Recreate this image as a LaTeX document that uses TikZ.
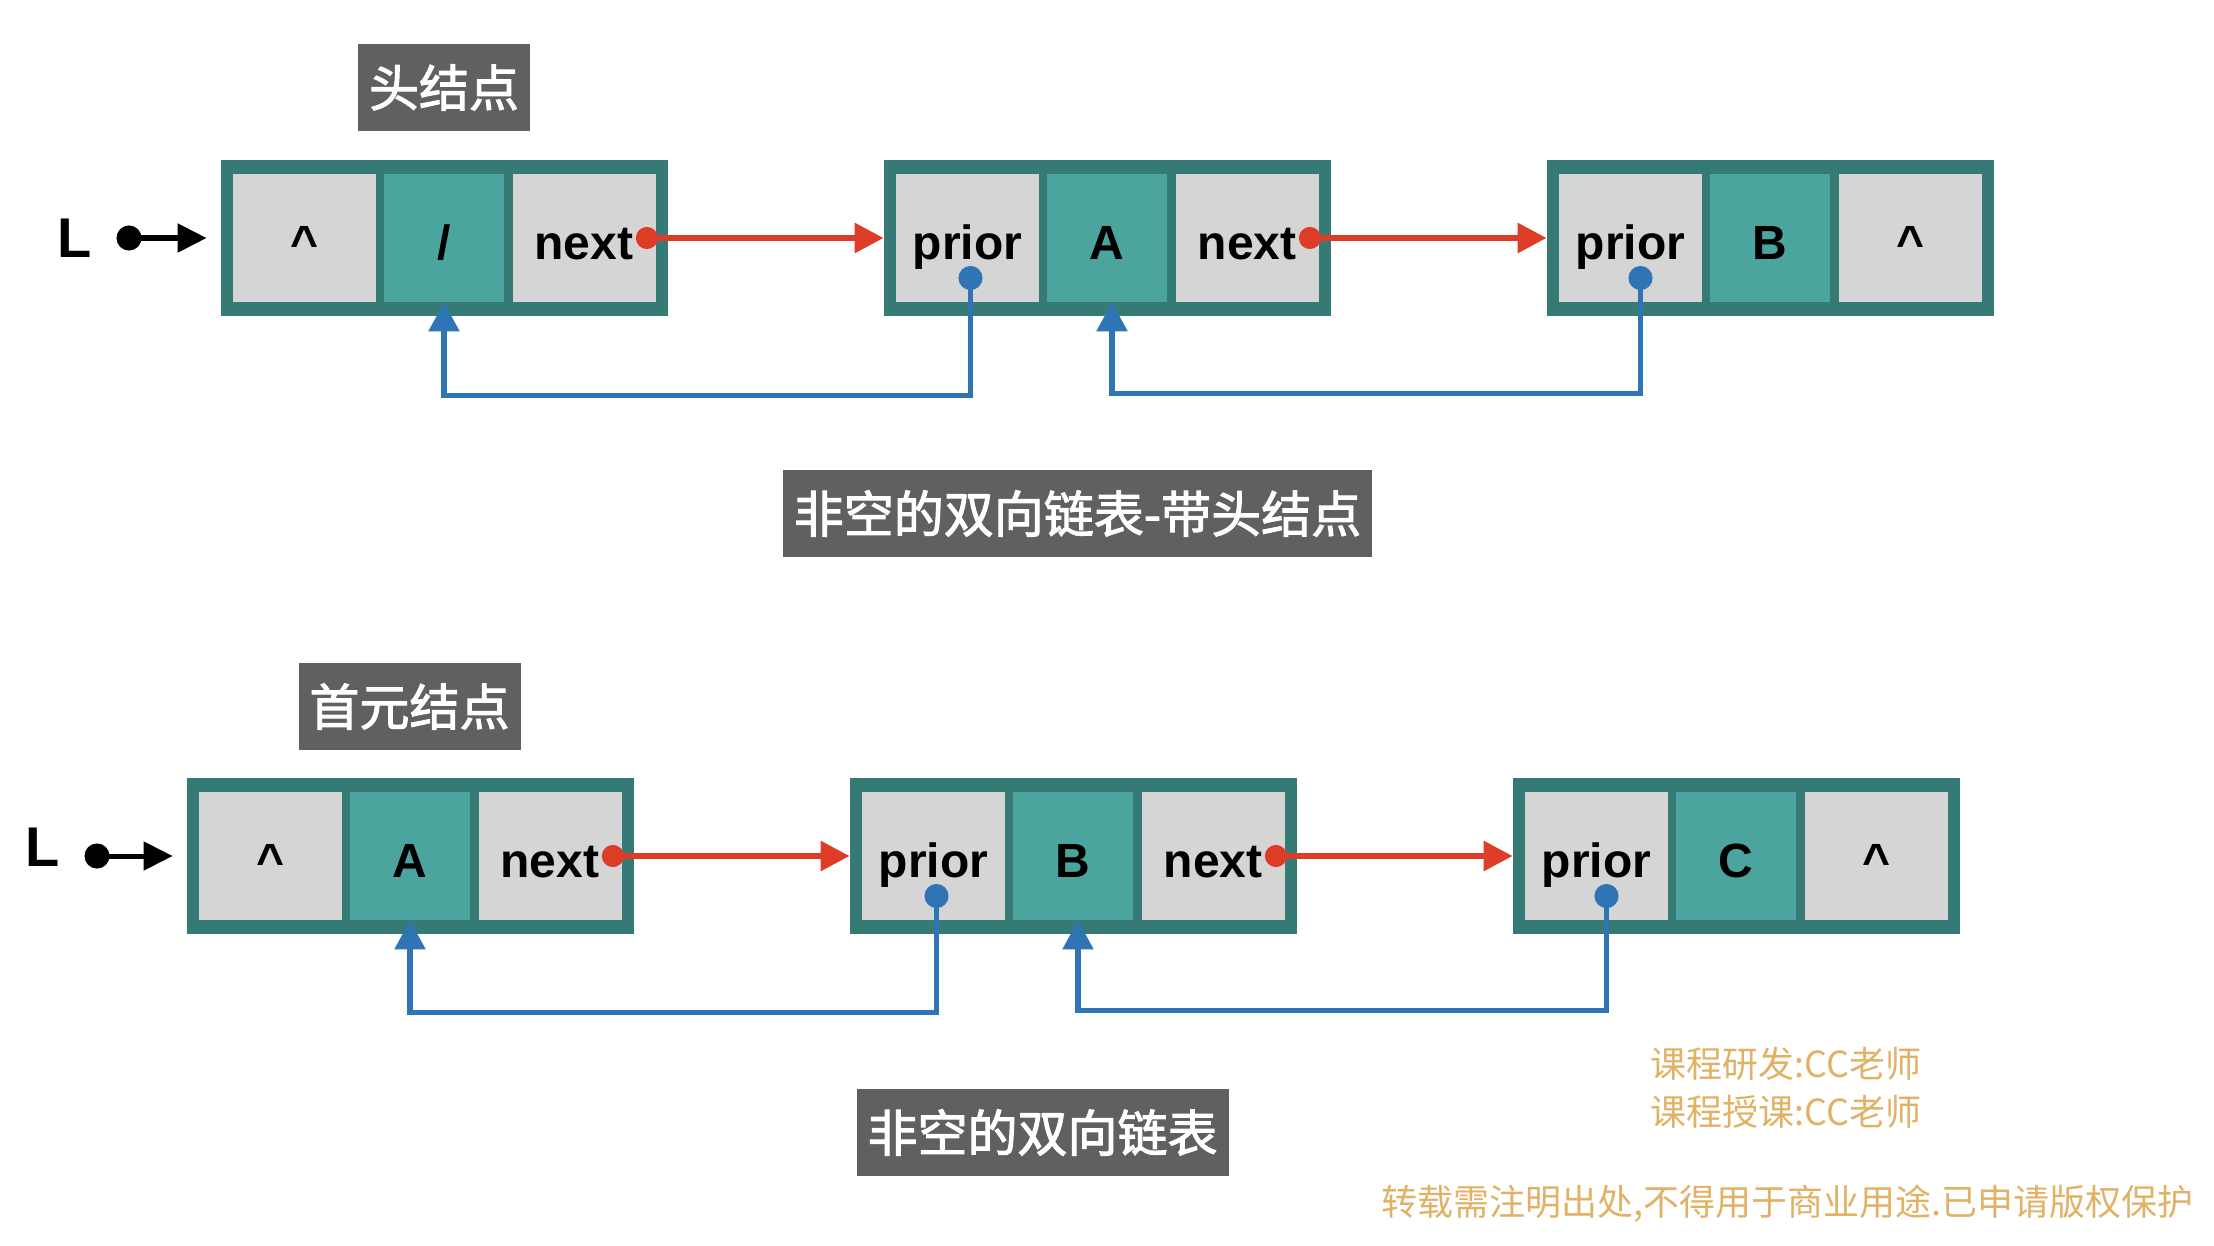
\documentclass[tikz,border=0pt]{standalone}
\usepackage{fontspec}
\setmainfont{Liberation Sans}
\newfontfamily\cjk{Noto Sans CJK SC}
\newfontfamily\cjktag[RawFeature={embolden=2}]{Noto Sans CJK SC}
\usepackage{tikz}
\usetikzlibrary{arrows.meta,calc}

\definecolor{framefill}{RGB}{54,122,118}
\definecolor{tealfill}{RGB}{75,165,158}
\definecolor{greyfill}{RGB}{213,213,213}
\definecolor{tagfill}{RGB}{96,96,96}
\definecolor{nextred}{RGB}{221,60,38}
\definecolor{priorblue}{RGB}{47,117,182}
\definecolor{creditgold}{RGB}{225,178,102}

\begin{document}
\begin{tikzpicture}[x=0.5pt,y=0.5pt,yscale=-1,xscale=1,
  nodeframe/.style={fill=framefill,minimum width=223.5pt,minimum height=78pt,inner sep=0pt},
  greycell/.style={fill=greyfill,minimum width=71.5pt,minimum height=64pt,inner sep=0pt,
    text height=21pt,text depth=0pt,font=\fontsize{24}{24}\selectfont\bfseries},
  tealcell/.style={greycell,fill=tealfill,minimum width=60pt},
  tagbox/.style={fill=tagfill,text=white,minimum height=43.5pt,inner xsep=5.5pt,inner ysep=0pt,
    font=\cjktag\fontsize{25}{25}\selectfont},
  headname/.style={inner sep=0pt,font=\fontsize{28}{28}\selectfont\bfseries},
  credit/.style={text=creditgold,inner sep=0pt,font=\cjk\fontsize{18}{18}\selectfont},
  headptr/.style={line width=2.5pt,{Circle[length=12.5pt]}-{Triangle[length=14.5pt,width=14pt]},
    shorten <=12pt,shorten >=7pt},
  nextarrow/.style={draw=nextred,line width=3pt,
    {Circle[length=11pt]}-{Triangle[length=14.5pt,width=14.5pt]}},
  priorarrow/.style={draw=priorblue,line width=2.8pt,
    {Circle[length=12pt]}-{Triangle[length=14.5pt,width=15pt]}}]
\useasboundingbox (0,0) rectangle (2214,1246);

% Text Node
\node[tagbox] (headtag) at (444,87.5) {头结点};

%Upper list with head node
\node[nodeframe] (h0) at (444.5,238) {};
\node[greycell] (h0p) at (304.5,238) {\textasciicircum};
\node[tealcell] (h0d) at (444,238) {/};
\node[greycell] (h0n) at (584,238) {next};

\node[nodeframe] (h1) at (1107.5,238) {};
\node[greycell] (h1p) at (967.5,238) {prior};
\node[tealcell] (h1d) at (1107,238) {A};
\node[greycell] (h1n) at (1247,238) {next};

\node[nodeframe] (h2) at (1770.5,238) {};
\node[greycell] (h2p) at (1630.5,238) {prior};
\node[tealcell] (h2d) at (1770,238) {B};
\node[greycell] (h2n) at (1910,238) {\textasciicircum};

\node[headname] (L1) at (75,238) {L};
\draw[headptr] (L1.east) -- (h0.west);

%Straight Lines
\draw[nextarrow] ($(h0n.east)+(-20,0)$) -- (h1.west);
\draw[nextarrow] ($(h1n.east)+(-20,0)$) -- (h2.west);
\draw[priorarrow] ($(h1p.center)+(3,28)$) |- ($(h0d.south)+(0,93)$) -- (h0d.south);
\draw[priorarrow] ($(h2p.center)+(10,28)$) |- ($(h1d.south)+(5,91)$) -- ($(h1d.south)+(5,0)$);

% Text Node
\node[tagbox] (toptitle) at (1077.5,513.5) {非空的双向链表-带头结点};

% Text Node
\node[tagbox] (firsttag) at (409.5,706.5) {首元结点};

%Lower list without head node
\node[nodeframe] (f0) at (410.5,856) {};
\node[greycell] (f0p) at (270.5,856) {\textasciicircum};
\node[tealcell] (f0d) at (410,856) {A};
\node[greycell] (f0n) at (550,856) {next};

\node[nodeframe] (f1) at (1073.5,856) {};
\node[greycell] (f1p) at (933.5,856) {prior};
\node[tealcell] (f1d) at (1073,856) {B};
\node[greycell] (f1n) at (1213,856) {next};

\node[nodeframe] (f2) at (1736.5,856) {};
\node[greycell] (f2p) at (1596.5,856) {prior};
\node[tealcell] (f2d) at (1736,856) {C};
\node[greycell] (f2n) at (1876,856) {\textasciicircum};

\node[headname] (L2) at (43,847) {L};
\draw[headptr] (L2.east |- f0.west) -- (f0.west);

%Straight Lines
\draw[nextarrow] ($(f0n.east)+(-20,0)$) -- (f1.west);
\draw[nextarrow] ($(f1n.east)+(-20,0)$) -- (f2.west);
\draw[priorarrow] ($(f1p.center)+(3,28)$) |- ($(f0d.south)+(0,92)$) -- (f0d.south);
\draw[priorarrow] ($(f2p.center)+(10,28)$) |- ($(f1d.south)+(5,90)$) -- ($(f1d.south)+(5,0)$);

% Text Node
\node[tagbox] (bottitle) at (1042.5,1132.5) {非空的双向链表};

% Text Node
\node[credit] (devnote) at (1786,1064) {课程研发:CC老师};
\node[credit] (teachnote) at (1786,1112) {课程授课:CC老师};
\node[credit] (copynote) at (1787.5,1203.5) {转载需注明出处,不得用于商业用途.已申请版权保护};

\end{tikzpicture}
\end{document}
